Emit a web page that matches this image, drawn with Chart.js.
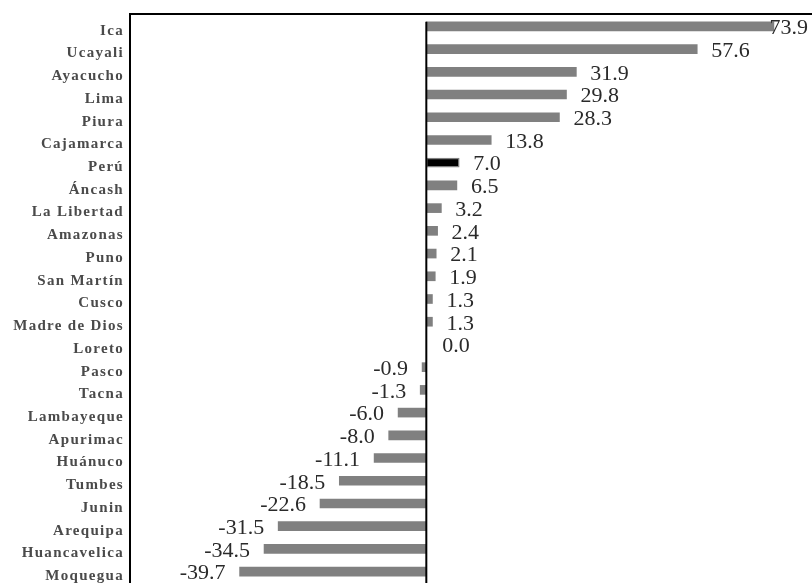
<!DOCTYPE html>
<html>
<head>
<meta charset="utf-8">
<script src="https://cdn.jsdelivr.net/npm/chart.js@4.4.1/dist/chart.umd.min.js"></script>
<style>
  html, body { margin: 0; padding: 0; background: #fff; }
  #wrap { position: relative; width: 812px; height: 583px; }
</style>
</head>
<body>
<div id="wrap"><canvas id="grafico"></canvas></div>
<script>
// Variación porcentual por región
const regiones = ['Ica', 'Ucayali', 'Ayacucho', 'Lima', 'Piura', 'Cajamarca', 'Perú', 'Áncash',
  'La Libertad', 'Amazonas', 'Puno', 'San Martín', 'Cusco', 'Madre de Dios', 'Loreto', 'Pasco',
  'Tacna', 'Lambayeque', 'Apurimac', 'Huánuco', 'Tumbes', 'Junin', 'Arequipa', 'Huancavelica', 'Moquegua'];
const variacion = [73.9, 57.6, 31.9, 29.8, 28.3, 13.8, 7.0, 6.5,
  3.2, 2.4, 2.1, 1.9, 1.3, 1.3, 0.0, -0.9,
  -1.3, -6.0, -8.0, -11.1, -18.5, -22.6, -31.5, -34.5, -39.7];
const ejeMin = -63;
const ejeMax = 82;

const colores = regiones.map(r => r === 'Perú' ? '#000000' : '#808080');

// marco superior, linea del cero y etiquetas de valor
const marco = {
  id: 'marco',
  beforeDraw(chart) {
    chart.ctx.letterSpacing = '1.3px';
  },
  afterDraw(chart) {
    const ctx = chart.ctx;
    const area = chart.chartArea;
    const x0 = chart.scales.x.getPixelForValue(0);
    const barras = chart.getDatasetMeta(0).data;
    ctx.save();
    ctx.letterSpacing = '0px';
    ctx.strokeStyle = '#000';
    ctx.lineWidth = 2;
    ctx.beginPath();
    ctx.moveTo(area.left - 1, area.top - 1);
    ctx.lineTo(area.right, area.top - 1);
    ctx.stroke();

    const primera = barras[0];
    ctx.beginPath();
    ctx.moveTo(x0, primera.y - primera.height / 2);
    ctx.lineTo(x0, area.bottom);
    ctx.stroke();

    ctx.font = '22px "Liberation Serif", "Times New Roman", serif';
    ctx.fillStyle = '#2a2a2a';
    ctx.textBaseline = 'middle';
    barras.forEach((b, i) => {
      const v = variacion[i];
      const txt = v.toFixed(1);
      let x;
      if (v < 0) {
        ctx.textAlign = 'right';
        x = b.x - 14;
      } else {
        ctx.textAlign = 'left';
        x = b.x + (v === 0 ? 16 : 14);
        const w = ctx.measureText(txt).width;
        if (x + w > area.right - 4) x = area.right - 4 - w;
      }
      ctx.fillText(txt, x, b.y + 2);
    });
    ctx.restore();
    ctx.letterSpacing = '0px';
  }
};

new Chart(document.getElementById('grafico'), {
  type: 'bar',
  data: {
    labels: regiones,
    datasets: [{
      data: variacion,
      backgroundColor: colores,
      borderColor: '#808080',
      borderWidth: regiones.map(r => r === 'Perú' ? 1.5 : 0),
      borderSkipped: false,
      barThickness: 9
    }]
  },
  options: {
    indexAxis: 'y',
    responsive: true,
    maintainAspectRatio: false,
    animation: false,
    layout: { padding: { top: 15, right: 0, bottom: 0, left: 0 } },
    plugins: {
      legend: { display: false },
      tooltip: { enabled: false }
    },
    scales: {
      x: {
        display: false,
        min: ejeMin,
        max: ejeMax
      },
      y: {
        afterFit(scale) {
          scale.width = 130;
          scale.paddingTop = 0;
          scale.paddingBottom = 0;
        },
        grid: { display: false, drawTicks: false },
        border: { display: true, color: '#000', width: 2 },
        ticks: {
          padding: 6,
          labelOffset: 4.5,
          color: '#4a4a4a',
          font: { family: '"Liberation Serif", "Times New Roman", serif', size: 15, weight: 'bold' }
        }
      }
    }
  },
  plugins: [marco]
});
</script>
</body>
</html>
